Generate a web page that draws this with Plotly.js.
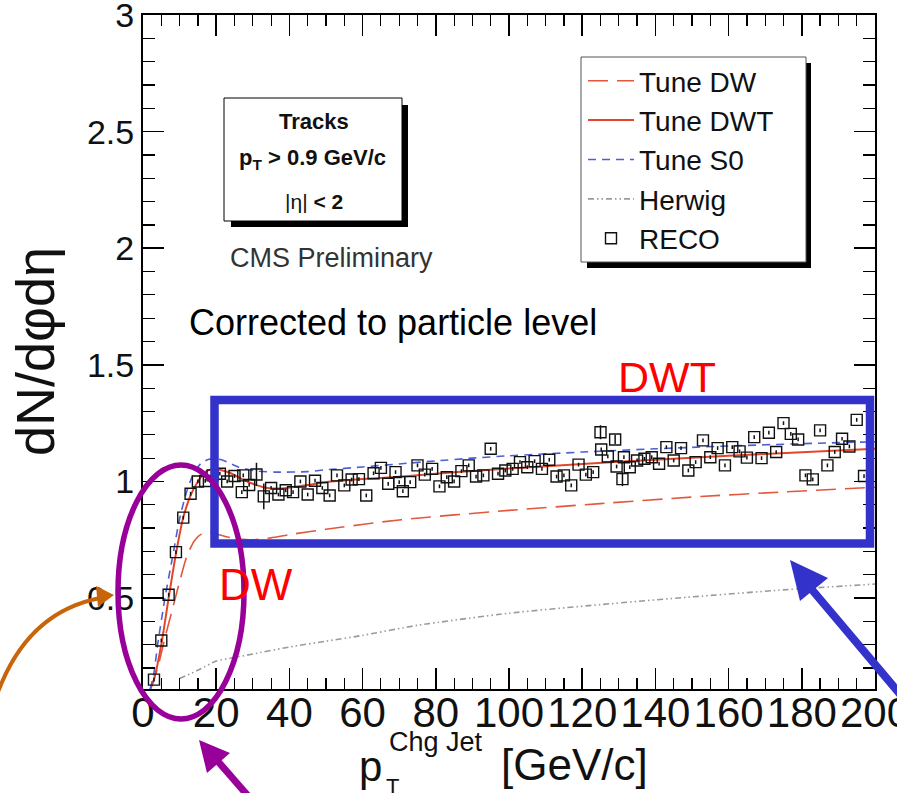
<!DOCTYPE html>
<html>
<head>
<meta charset="utf-8">
<script src="https://cdn.plot.ly/plotly-3.0.1.min.js"></script>
<style>html,body{margin:0;padding:0;background:#fff;}#chart{width:897px;height:793px;}</style>
</head>
<body>
<div id="chart"></div>
<script>
// ---------- data ----------
const recoX = [3,5,7,9,11,13,15,17,19,21,23,25,27,27.4,29,31,33,35,37,39,41,43,45,47,49,51,53,55,57,59,61,63,65,67,69,70,71,73,75,77,79,81,83,85,87,89,91,93,95,97,99,101,103,105,107,109,111,113,115,117,119,121,123,125,125.2,127,129,129.4,131,131.4,133,135,137,139,141,143,145,147,149,151,153,155,157,159,161,163,165,167,169,171,173,175,177,179,181,183,185,187,189,191,193,195,197];
const recoY = [0.15,0.318,0.514,0.697,0.845,0.947,1.0,1.002,1.026,1.033,1.0,1.023,0.954,1.026,0.985,1.03,0.936,0.972,0.944,0.962,0.954,1.0,0.944,1.003,0.972,0.94,1.026,0.983,1.008,1.01,0.94,1.035,1.058,0.99,1.04,0.997,0.958,0.997,1.069,1.029,1.054,0.979,1.018,1.0,1.044,1.069,1.021,1.026,1.14,1.033,1.047,1.054,1.083,1.061,1.087,1.054,1.093,1.021,1.026,0.983,1.072,1.029,1.04,1.211,1.137,1.107,1.18,1.064,1.01,1.104,1.061,1.09,1.097,1.104,1.076,1.147,1.09,1.143,1.047,1.083,1.176,1.104,1.143,1.069,1.147,1.129,1.102,1.19,1.1,1.209,1.126,1.25,1.204,1.18,1.026,1.009,1.219,1.069,1.126,1.183,1.15,1.264,1.023];
const recoErrX = [31,33,125,129,131];
const recoErrV = [0.05,0.055,0.03,0.02,0.03];

const dwX  = [2,4,6,8,10,12,14,16,18,20,25,30,35,40,50,70,100,125,150,175,200];
const dwY  = [0.11,0.2,0.33,0.45,0.57,0.68,0.745,0.775,0.782,0.775,0.755,0.75,0.758,0.772,0.795,0.835,0.876,0.905,0.933,0.955,0.975];

const dwtX = [2,3,5,7,9,11,13,15,17,19,21,24,27,30,34,38,45,50,60,70,80,90,100,120,140,160,180,200];
const dwtY = [0.11,0.15,0.3,0.5,0.69,0.845,0.94,1.0,1.04,1.053,1.05,1.035,1.01,0.99,0.972,0.97,0.985,0.997,1.01,1.02,1.033,1.045,1.055,1.075,1.093,1.11,1.125,1.14];

const s0X  = [2,3,4,6,8,10,12,14,16,18,20,22,26,31,36,45,50,60,70,80,90,100,120,140,160,180,200];
const s0Y  = [0.11,0.18,0.3,0.5,0.67,0.84,0.96,1.04,1.08,1.095,1.097,1.09,1.062,1.045,1.04,1.042,1.05,1.062,1.075,1.088,1.1,1.11,1.126,1.14,1.152,1.162,1.17];

const hwX  = [10,15,20,25,30,40,50,60,75,100,125,150,175,200];
const hwY  = [0.155,0.19,0.23,0.245,0.26,0.29,0.315,0.34,0.383,0.435,0.472,0.505,0.535,0.56];

const seriesNames = ["Tune DW","Tune DWT","Tune S0","Herwig","RECO"];
const xTitleParts = ["p","Chg Jet","T","[GeV/c]"];
const yTitle = "dN/dφdη";

// ---------- helpers (pixel -> paper) ----------
const L = 143, R = 875, T = 15, B = 689;
const px = x => (x - L) / (R - L);
const py = y => 1 - (y - T) / (B - T);
const FONT = "Liberation Sans, Arial, Helvetica, sans-serif";

const recoErr = recoX.map(x => { const i = recoErrX.indexOf(x); return i >= 0 ? recoErrV[i] : 0.008; });

const traces = [
  {x: dwX, y: dwY, name: seriesNames[0], mode: "lines", line: {color: "#e4573d", width: 1.6, dash: "20px,9px", shape: "spline", smoothing: 0.6}},
  {x: dwtX, y: dwtY, name: seriesNames[1], mode: "lines", line: {color: "#e4462a", width: 2, shape: "spline", smoothing: 0.6}},
  {x: s0X, y: s0Y, name: seriesNames[2], mode: "lines", line: {color: "#4d5fd8", width: 1.6, dash: "8px,6px", shape: "spline", smoothing: 0.6}},
  {x: hwX, y: hwY, name: seriesNames[3], mode: "lines", line: {color: "#9a9a9a", width: 1.6, dash: "6px,3px,1.5px,3px,1.5px,3px", shape: "spline", smoothing: 0.6}},
  {x: recoX, y: recoY, name: seriesNames[4], mode: "markers",
   marker: {symbol: "square-open", size: 11, color: "#111", line: {width: 1.4, color: "#111"}},
   error_y: {type: "data", array: recoErr, visible: true, width: 0, thickness: 1.5, color: "#111"}}
];

function tri(a, b, c) {
  return `M ${px(a[0])},${py(a[1])} L ${px(b[0])},${py(b[1])} L ${px(c[0])},${py(c[1])} Z`;
}
function seg(a, b) {
  return `M ${px(a[0])},${py(a[1])} L ${px(b[0])},${py(b[1])}`;
}

const shapes = [
  // legend shadow + box
  {type: "rect", xref: "paper", yref: "paper", x0: px(587), x1: px(811), y0: py(63), y1: py(268), fillcolor: "#000", line: {width: 0}, layer: "above"},
  {type: "rect", xref: "paper", yref: "paper", x0: px(581), x1: px(806), y0: py(57), y1: py(262), fillcolor: "#fff", line: {width: 1, color: "#555"}, layer: "above"},
  // info box shadow + box
  {type: "rect", xref: "paper", yref: "paper", x0: px(231), x1: px(408), y0: py(105), y1: py(227), fillcolor: "#000", line: {width: 0}, layer: "above"},
  {type: "rect", xref: "paper", yref: "paper", x0: px(224), x1: px(402), y0: py(98), y1: py(221), fillcolor: "#fff", line: {width: 1, color: "#000"}, layer: "above"},
  // blue highlight rectangle
  {type: "rect", xref: "paper", yref: "paper", x0: px(214.5), x1: px(870), y0: py(400), y1: py(543.5), line: {width: 8.5, color: "#3333cc"}, layer: "above"},
  // purple ellipse
  {type: "circle", xref: "paper", yref: "paper", x0: px(118), x1: px(244), y0: py(465), y1: py(719), line: {width: 5.5, color: "#990099"}, layer: "above"},
  // orange curved arrow
  {type: "path", xref: "paper", yref: "paper", path: `M ${px(-2)},${py(692)} Q ${px(28)},${py(612)} ${px(100)},${py(598)}`, line: {width: 4, color: "#c8640a"}, layer: "above"},
  {type: "path", xref: "paper", yref: "paper", path: tri([114, 595], [96, 586], [98, 607]), fillcolor: "#c8640a", line: {width: 0}, layer: "above"},
  // purple arrow
  {type: "path", xref: "paper", yref: "paper", path: seg([256, 805], [215, 758]), line: {width: 7, color: "#990099"}, layer: "above"},
  {type: "path", xref: "paper", yref: "paper", path: tri([199, 740], [230, 753], [207, 773]), fillcolor: "#990099", line: {width: 0}, layer: "above"},
  // blue arrow
  {type: "path", xref: "paper", yref: "paper", path: seg([905, 700], [808, 585]), line: {width: 8, color: "#3333cc"}, layer: "above"},
  {type: "path", xref: "paper", yref: "paper", path: tri([790, 560], [828, 578], [800, 601]), fillcolor: "#3333cc", line: {width: 0}, layer: "above"}
];

function ann(text, x, y, size, opts) {
  return Object.assign({text: text, xref: "paper", yref: "paper", x: px(x), y: py(y), showarrow: false,
    xanchor: "center", yanchor: "middle", font: {family: FONT, size: size, color: "#111"}}, opts || {});
}

const annotations = [
  ann("<b>Tracks</b>", 314, 122, 22),
  ann("<b>p<sub>T</sub> &gt; 0.9 GeV/c</b>", 312, 159, 22),
  ann("|η| <b>&lt; 2</b>", 314, 202, 21),
  ann("CMS Preliminary", 331, 258, 27, {font: {family: FONT, size: 27, color: "#333"}}),
  ann("Corrected to particle level", 187, 322, 36, {xanchor: "left", font: {family: FONT, size: 36, color: "#000"}}),
  ann("DWT", 667, 377, 43, {font: {family: FONT, size: 43, color: "#ff0000"}}),
  ann("DW", 256, 584, 44, {font: {family: FONT, size: 44, color: "#ff0000"}}),
  ann(yTitle, 35, 352, 54, {textangle: -90}),
  ann(xTitleParts[0], 370, 766, 42),
  ann(xTitleParts[1], 436, 742, 27),
  ann(xTitleParts[2], 392, 786, 22),
  ann(xTitleParts[3], 574, 764, 44)
];

const layout = {
  width: 897, height: 793,
  margin: {l: L, r: 897 - R, t: T, b: 793 - B, pad: 0},
  paper_bgcolor: "#fff", plot_bgcolor: "#fff",
  font: {family: FONT, color: "#111"},
  showlegend: true,
  legend: {x: px(583), y: py(56), xanchor: "left", yanchor: "top", bgcolor: "rgba(0,0,0,0)",
    borderwidth: 0, itemwidth: 46, font: {family: FONT, size: 28, color: "#111"}},
  xaxis: {range: [0, 200], tick0: 0, dtick: 20, ticks: "inside", ticklen: 21, tickwidth: 1.5, tickcolor: "#000",
    minor: {dtick: 5, ticks: "inside", ticklen: 11, tickwidth: 1.2, tickcolor: "#000"},
    showline: true, linewidth: 2, linecolor: "#000", mirror: "ticks", showgrid: false, zeroline: false,
    ticklabeloverflow: "allow", ticklabelstandoff: -14,
    tickfont: {family: FONT, size: 42, color: "#111"}},
  yaxis: {range: [0.11, 3], tick0: 0, dtick: 0.5, ticks: "inside", ticklen: 21, tickwidth: 1.5, tickcolor: "#000",
    minor: {dtick: 0.1, ticks: "inside", ticklen: 12, tickwidth: 1.2, tickcolor: "#000"},
    showline: true, linewidth: 2, linecolor: "#000", mirror: "ticks", showgrid: false, zeroline: false,
    ticklabeloverflow: "allow",
    tickfont: {family: FONT, size: 34, color: "#111"}},
  shapes: shapes,
  annotations: annotations
};

Plotly.newPlot("chart", traces, layout, {displayModeBar: false, staticPlot: true});
</script>
</body>
</html>
